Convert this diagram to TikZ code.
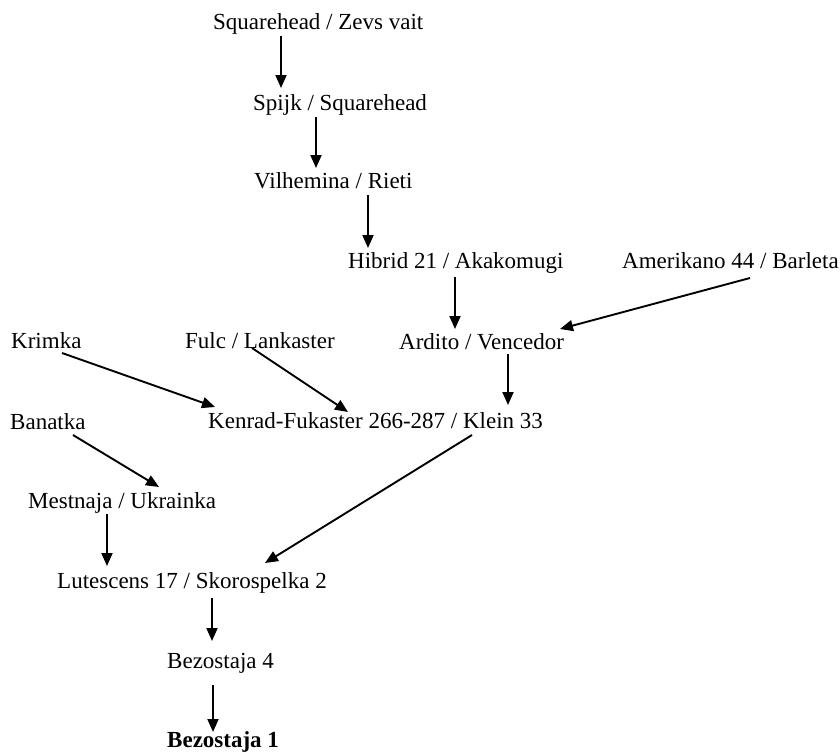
\documentclass[tikz,border=0pt]{standalone}
\usepackage{fontspec}
\setmainfont{Liberation Serif}
\usetikzlibrary{arrows.meta}
\begin{document}
\begin{tikzpicture}[x=1pt,y=1pt,
  lbl/.style={anchor=base west,inner sep=0pt,font=\fontsize{23}{27}\selectfont},
  arr/.style={-{Triangle[length=13pt,width=11pt]},line width=1.9pt}]
\useasboundingbox (0,0) rectangle (840,-752);
\node[lbl] (sq) at (213,-30) {Squarehead / Zevs vait};
\node[lbl] (spijk) at (253,-110) {Spijk / Squarehead};
\node[lbl] (vil) at (254,-188) {Vilhemina / Rieti};
\node[lbl] (hib) at (348,-268) {Hibrid 21 / Akakomugi};
\node[lbl] (amer) at (622,-268) {Amerikano 44 / Barleta};
\node[lbl] (krim) at (11,-348) {Krimka};
\node[lbl] (fulc) at (185,-348) {Fulc / Lankaster};
\node[lbl] (ard) at (399,-349) {Ardito / Vencedor};
\node[lbl] (ban) at (10,-429) {Banatka};
\node[lbl] (ken) at (208,-428) {Kenrad-Fukaster 266-287 / Klein 33};
\node[lbl] (mest) at (28,-508) {Mestnaja / Ukrainka};
\node[lbl] (lut) at (57,-588) {Lutescens 17 / Skorospelka 2};
\node[lbl] (bez4) at (167,-668) {Bezostaja 4};
\node[lbl,font=\fontsize{23}{27}\selectfont\bfseries] (bez1) at (167,-747) {Bezostaja 1};
\draw[arr] ([shift={(68,-6)}]sq.base west) -- ([shift={(28,22)}]spijk.base west);
\draw[arr] ([shift={(63,-7)}]spijk.base west) -- ([shift={(62,20)}]vil.base west);
\draw[arr] ([shift={(114,-7)}]vil.base west) -- ([shift={(20,20)}]hib.base west);
\draw[arr] ([shift={(107,-9)}]hib.base west) -- ([shift={(56,20)}]ard.base west);
\draw[arr] ([shift={(128,-10)}]amer.base west) -- ([shift={(161,20)}]ard.base west);
\draw[arr] ([shift={(109,-5)}]ard.base west) -- ([shift={(300,23)}]ken.base west);
\draw[arr] ([shift={(51,-5)}]krim.base west) -- ([shift={(7,21)}]ken.base west);
\draw[arr] ([shift={(67,0)}]fulc.base west) -- ([shift={(140,16)}]ken.base west);
\draw[arr] ([shift={(63,-6)}]ban.base west) -- ([shift={(131,21)}]mest.base west);
\draw[arr] ([shift={(264,-7)}]ken.base west) -- ([shift={(208,25)}]lut.base west);
\draw[arr] ([shift={(79,-6)}]mest.base west) -- ([shift={(50,22)}]lut.base west);
\draw[arr] ([shift={(155,-10)}]lut.base west) -- ([shift={(45,27)}]bez4.base west);
\draw[arr] ([shift={(46,-17)}]bez4.base west) -- ([shift={(46,15)}]bez1.base west);
\end{tikzpicture}
\end{document}
